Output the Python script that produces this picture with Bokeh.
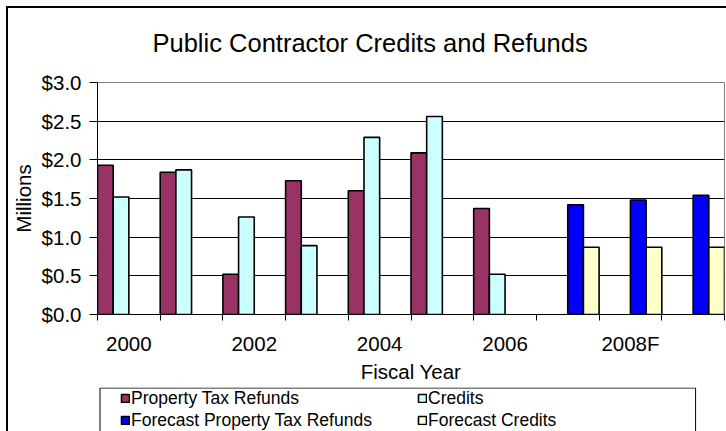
from bokeh.plotting import figure
from bokeh.layouts import column
from bokeh.models import (Range1d, FixedTicker, NumeralTickFormatter, Title,
                          ColumnDataSource, Legend, LegendItem)
from bokeh.embed import file_html
from bokeh.resources import INLINE

# ---------------- data ----------------
categories = ["2000", "2001", "2002", "2003", "2004", "2005", "2006", "2007F", "2008F", "2009F"]
tick_labels = ["2000", "2002", "2004", "2006", "2008F"]
property_tax_refunds = [1.93, 1.84, 0.52, 1.73, 1.60, 2.09, 1.37, None, None, None]
credits = [1.52, 1.87, 1.26, 0.89, 2.29, 2.56, 0.52, None, None, None]
forecast_property_tax_refunds = [None, None, None, None, None, None, None, 1.42, 1.48, 1.54]
forecast_credits = [None, None, None, None, None, None, None, 0.87, 0.87, 0.87]
y_ticks = [0.0, 0.5, 1.0, 1.5, 2.0, 2.5, 3.0]

series = [
    ("Property Tax Refunds", property_tax_refunds, "#993366"),
    ("Credits", credits, "#CCFFFF"),
    ("Forecast Property Tax Refunds", forecast_property_tax_refunds, "#0000FF"),
    ("Forecast Credits", forecast_credits, "#FFFFCC"),
]

FONT = "Liberation Sans"
W = 718
LEFT, RIGHT = 87, 2

nslots = len(series)
slot_w = 1.0 / nslots


def series_source(j, vals):
    xs = [i + slot_w * (j + 0.5) for i, v in enumerate(vals) if v is not None]
    tops = [v for v in vals if v is not None]
    return ColumnDataSource(dict(x=xs, top=tops))


# ================= chart =================
p = figure(width=W, height=379, x_range=Range1d(0, len(categories)),
           y_range=Range1d(0, 3),
           output_backend="svg", toolbar_location=None,
           min_border_left=LEFT, min_border_right=RIGHT, min_border_top=74, min_border_bottom=73)
p.background_fill_color = "white"
p.border_fill_color = "white"
p.outline_line_color = "#808080"
p.outline_line_width = 1

p.title.text = "Public Contractor Credits and Refunds"
p.title.text_font = FONT
p.title.text_font_size = "25.5px"
p.title.text_font_style = "normal"
p.title.text_color = "black"
p.title.align = "left"
p.title.offset = 55
p.add_layout(Title(text=" ", text_font_size="10px", standoff=8), "above")

for j, (name, vals, color) in enumerate(series):
    p.vbar(x="x", top="top", bottom=0, width=slot_w, source=series_source(j, vals),
           fill_color=color, line_color="black", line_width=1.6)

ya = p.yaxis[0]
ya.ticker = FixedTicker(ticks=y_ticks)
ya.formatter = NumeralTickFormatter(format="$0.0")
ya.major_label_text_font = FONT
ya.major_label_text_font_size = "20.5px"
ya.major_label_text_color = "black"
ya.major_tick_out = 8
ya.major_tick_in = 0
ya.minor_tick_out = 0
ya.minor_tick_in = 0
ya.major_label_standoff = 8
ya.axis_line_color = "black"
ya.major_tick_line_color = "black"
ya.axis_label = "Millions"
ya.axis_label_text_font = FONT
ya.axis_label_text_font_size = "20.5px"
ya.axis_label_text_font_style = "normal"
ya.axis_label_text_color = "black"
ya.axis_label_standoff = 4

p.ygrid.ticker = FixedTicker(ticks=y_ticks[1:-1])
p.ygrid.grid_line_color = "black"
p.ygrid.grid_line_width = 1
p.xgrid.grid_line_color = None

label_pos = [categories.index(t) + 0.5 for t in tick_labels]
xa = p.xaxis[0]
xa.ticker = FixedTicker(ticks=label_pos, minor_ticks=list(range(len(categories) + 1)))
xa.major_label_overrides = {pos: t for pos, t in zip(label_pos, tick_labels)}
xa.major_tick_out = 0
xa.major_tick_in = 0
xa.minor_tick_out = 6
xa.minor_tick_in = 0
xa.minor_tick_line_color = "black"
xa.axis_line_color = "black"
xa.major_label_text_font = FONT
xa.major_label_text_font_size = "20.5px"
xa.major_label_text_color = "black"
xa.major_label_standoff = 11
xa.axis_label = "Fiscal Year"
xa.axis_label_text_font = FONT
xa.axis_label_text_font_size = "20.5px"
xa.axis_label_text_font_style = "normal"
xa.axis_label_text_color = "black"
xa.axis_label_standoff = 2

# ================= legend strip =================
LH = 44
q = figure(width=W, height=LH, x_range=Range1d(LEFT, W - RIGHT), y_range=Range1d(LH, 0),
           x_axis_location=None, y_axis_location=None,
           output_backend="svg", toolbar_location=None,
           min_border_left=LEFT, min_border_right=RIGHT, min_border_top=0, min_border_bottom=0)
q.outline_line_color = None
q.grid.visible = False
q.background_fill_color = "white"
q.border_fill_color = "white"

# legend frame
q.quad(left=[89.5], right=[687], top=[0.5], bottom=[LH + 10],
       fill_color="white", line_color="black", line_width=1)

# hidden renderers carrying each series (they supply the legend swatches)
proxy = {}
for j, (name, vals, color) in enumerate(series):
    proxy[name] = q.vbar(x="x", top="top", bottom=0, width=slot_w, source=series_source(j, vals),
                         fill_color=color, line_color="black", line_width=1.6, visible=False)

common = dict(glyph_width=10, glyph_height=10, label_standoff=1, label_height=22,
              spacing=0, padding=0, margin=0, location="top_left",
              title=" ", title_location="left", title_text_font_size="1px",
              label_text_font=FONT, label_text_font_size="17.5px", label_text_color="black",
              inactive_fill_alpha=0, click_policy="none",
              border_line_alpha=0, background_fill_alpha=0)
leg_a = Legend(items=[LegendItem(label=n, renderers=[proxy[n]])
                      for n in ["Property Tax Refunds", "Forecast Property Tax Refunds"]],
               title_standoff=22, **common)
leg_b = Legend(items=[LegendItem(label=n, renderers=[proxy[n]])
                      for n in ["Credits", "Forecast Credits"]],
               title_standoff=319, **common)
q.add_layout(leg_a, "center")
q.add_layout(leg_b, "center")

layout = column(p, q, spacing=0)
# outer chart frame (only its top and left edges fall inside the window)
layout.styles = {"margin-left": "6px", "margin-top": "6px",
                 "border-left": "2px solid #000", "border-top": "2px solid #000"}

open("out.html", "w").write(file_html(layout, INLINE))
